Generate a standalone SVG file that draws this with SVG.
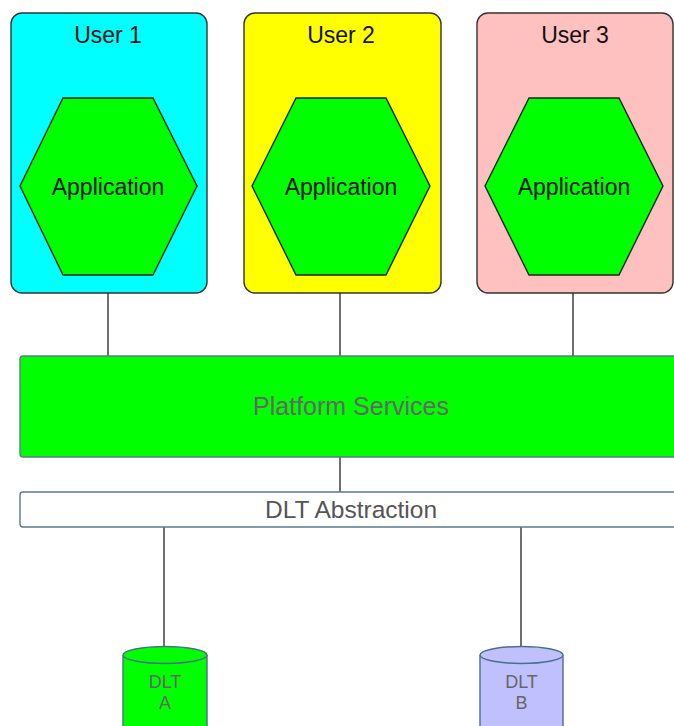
<svg xmlns="http://www.w3.org/2000/svg" width="674" height="726" viewBox="0 0 674 726">
<defs>
<style>
.user{stroke:#333;stroke-width:1.4}
.hex{fill:#00FF00;stroke:#222;stroke-width:1.4}
.t{font-family:"Liberation Sans",Arial,sans-serif;text-anchor:middle}
.lbl{font-size:23px;fill:#111}
.gray{fill:#666}
.bar{stroke:#5a7a90;stroke-width:1.4}
.cyl{stroke:#4a6f8a;stroke-width:1.4}
#connectors line{stroke:#222;stroke-width:1.3}
</style>
</defs>
<rect width="674" height="726" fill="#fff"/>
<g id="connectors">
<line x1="108" y1="275" x2="108" y2="356"/>
<line x1="340" y1="275" x2="340" y2="356"/>
<line x1="573" y1="275" x2="573" y2="356"/>
<line x1="340" y1="457" x2="340" y2="492"/>
<line x1="164" y1="527" x2="164" y2="655"/>
<line x1="521" y1="527" x2="521" y2="655"/>
</g>
<g id="user1">
<rect class="user" x="11" y="13" width="196" height="280" rx="11" fill="#00FFFF"/>
<text class="t lbl" x="108" y="43">User 1</text>
</g>
<g id="app1">
<polygon class="hex" points="63,98 153,98 197,186 153,275 63,275 20,186"/>
<text class="t lbl" x="108" y="195">Application</text>
</g>
<g id="user2">
<rect class="user" x="244" y="13" width="197" height="280" rx="11" fill="#FFFF00"/>
<text class="t lbl" x="341" y="43">User 2</text>
</g>
<g id="app2">
<polygon class="hex" points="296,98 386,98 430,186 386,275 296,275 252,186"/>
<text class="t lbl" x="341" y="195">Application</text>
</g>
<g id="user3">
<rect class="user" x="477" y="13" width="196" height="280" rx="11" fill="#FFC0C0"/>
<text class="t lbl" x="575" y="43">User 3</text>
</g>
<g id="app3">
<polygon class="hex" points="529,98 619,98 663,186 619,275 529,275 485,186"/>
<text class="t lbl" x="574" y="195">Application</text>
</g>
<g id="platform">
<rect class="bar" x="20" y="356" width="670" height="101" rx="3" fill="#00FF00"/>
<text class="t gray" x="351" y="415" font-size="25">Platform Services</text>
</g>
<g id="dltabs">
<rect class="bar" x="20" y="492" width="670" height="35" rx="3" fill="#fff"/>
<text class="t" x="351" y="518" font-size="24.5" fill="#555">DLT Abstraction</text>
</g>
<g id="dlta">
<path class="cyl" d="M123,655 L123,735 A42,8 0 0 0 207,735 L207,655" fill="#00FF00"/>
<ellipse class="cyl" cx="165" cy="655" rx="42" ry="8.5" fill="#00FF00"/>
<text class="t gray" x="165" y="688" font-size="18">DLT</text>
<text class="t gray" x="165" y="709" font-size="18">A</text>
</g>
<g id="dltb">
<path class="cyl" d="M480,655 L480,735 A41.5,8 0 0 0 563,735 L563,655" fill="#C0C0FF"/>
<ellipse class="cyl" cx="521.5" cy="655" rx="41.5" ry="8.5" fill="#C0C0FF"/>
<text class="t gray" x="521.5" y="688" font-size="18">DLT</text>
<text class="t gray" x="521.5" y="709" font-size="18">B</text>
</g>
</svg>
